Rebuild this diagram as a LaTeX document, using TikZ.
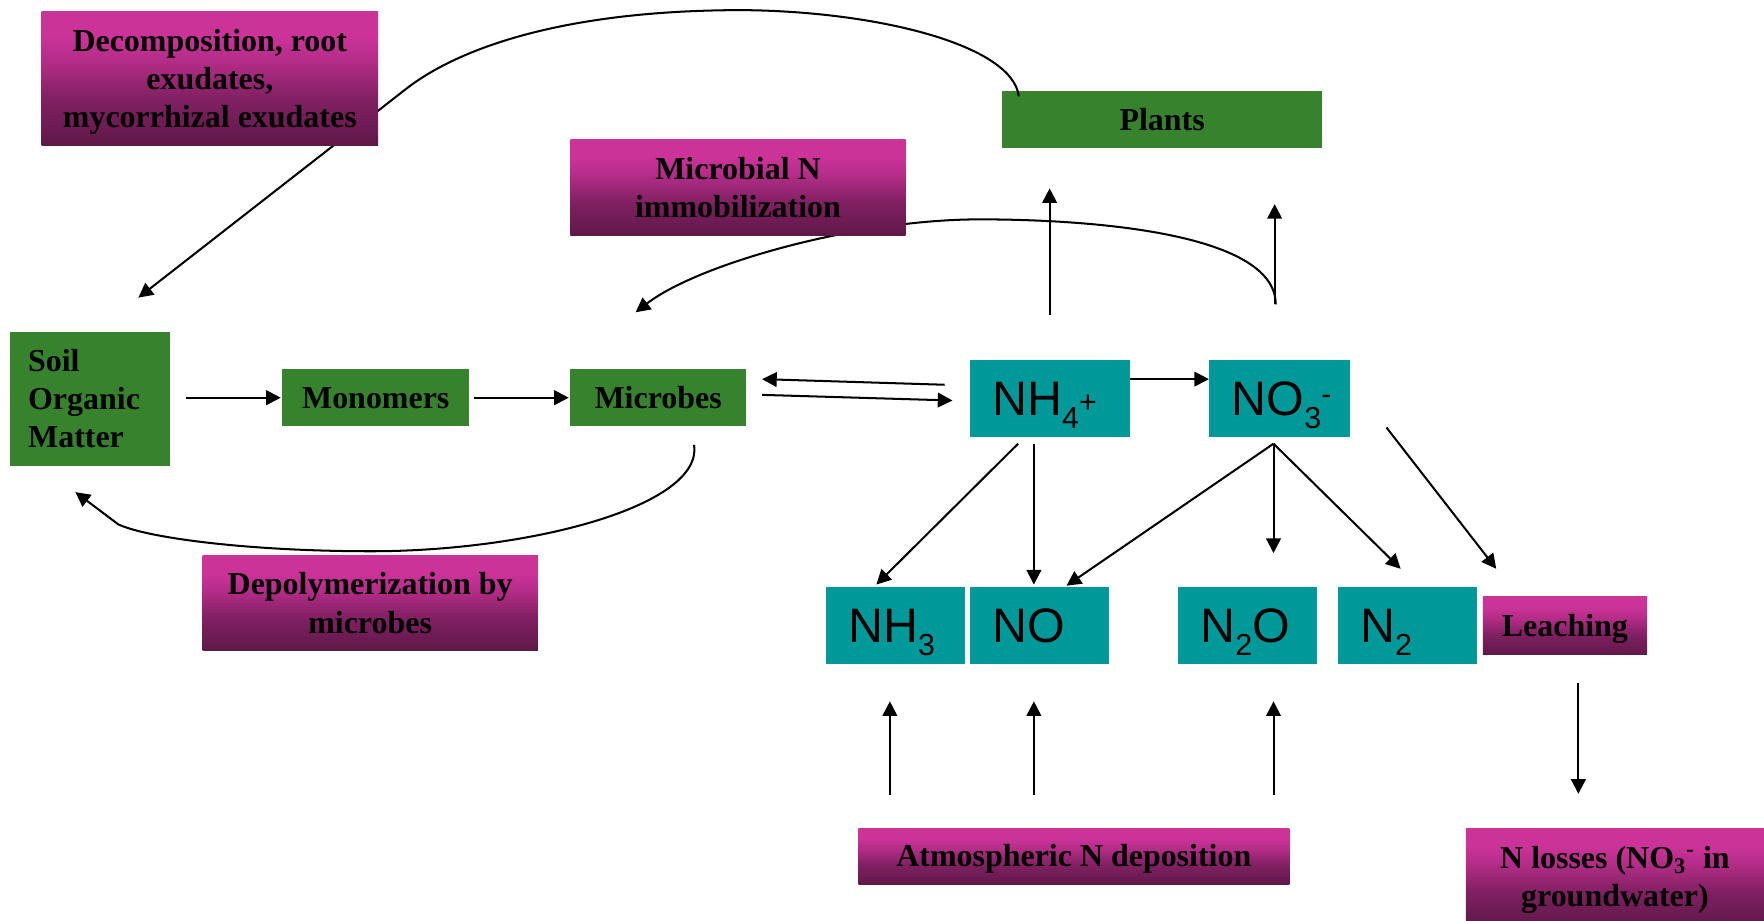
\documentclass[tikz,border=0pt]{standalone}
\usepackage{fontspec}
\setmainfont{Liberation Serif}
\newfontfamily\chemfont{Liberation Sans}
\usetikzlibrary{arrows.meta,calc}

\definecolor{leafgreen}{RGB}{55,131,45}
\definecolor{tealbox}{RGB}{0,153,153}
\definecolor{magTop}{RGB}{204,51,153}
\definecolor{magMid}{RGB}{178,44,134}
\definecolor{magLow}{RGB}{128,32,98}
\definecolor{magBot}{RGB}{96,24,72}

% magenta process boxes: bright top fading to dark plum at the bottom
\pgfdeclareverticalshading{processshade}{100bp}{color(0bp)=(magBot); color(25bp)=(magBot); color(42bp)=(magLow); color(56bp)=(magMid); color(66bp)=(magTop); color(100bp)=(magTop)}

\pgfdeclarelayer{front}
\pgfsetlayers{main,front}

% chemical sub- and superscripts for the nitrogen species
\newcommand\chemsub[1]{\raisebox{-5.8pt}{\fontsize{13.5}{13.5}\selectfont #1}}
\newcommand\chemsup[2]{\raisebox{#1}{\fontsize{13.5}{13.5}\selectfont #2}}

\begin{document}
\begin{tikzpicture}[
  x=0.5pt, y=-0.5pt,
  labelfont/.style={font=\bfseries\fontsize{14.2}{17}\selectfont},
  pool/.style={labelfont, fill=leafgreen, inner sep=0pt, align=center},
  process/.style={labelfont, shade, shading=processshade, inner sep=0pt, align=center},
  oneline/.style={text height=9.6pt, text depth=0pt},
  species/.style={fill=tealbox, inner ysep=0pt, inner xsep=10pt,
    font=\chemfont\fontsize{21.5}{24}\selectfont, align=left,
    text height=15.5pt, text depth=0pt, minimum height=34pt},
  flow/.style={-{Triangle[length=6.5pt,width=6.5pt]}, line width=0.9pt}
]
\useasboundingbox[fill=white] (0,0) rectangle (1568,818);

% carbon and nitrogen pools
\node[pool, oneline, minimum width=142pt, minimum height=25.5pt] (plants) at (1033,106.5) {Plants};
\node[pool, minimum width=71pt, minimum height=59.5pt, align=left, text width=55pt, inner xsep=8pt] (soil) at (80,354.5) {Soil\\Organic\\Matter};
\node[pool, oneline, minimum width=83pt, minimum height=25.5pt] (mono) at (334,353.5) {Monomers};
\node[pool, oneline, minimum width=78pt, minimum height=25.5pt] (microbes) at (585,353.5) {Microbes};

\node[species, text width=51pt] (nh4) at (933,354) {NH\chemsub{4}\chemsup{1.5pt}{+}};
\node[species, text width=42.5pt] (no3) at (1137.5,354) {NO\chemsub{3}\chemsup{5pt}{-}};
\node[species, text width=42pt] (nh3) at (796,556) {NH\chemsub{3}};
\node[species, text width=42pt] (no) at (924,556) {NO};
\node[species, text width=42pt] (n2o) at (1109,556) {N\chemsub{2}O};
\node[species, text width=42pt] (n2) at (1251,556) {N\chemsub{2}};

% processes, kept on top of the connectors that pass behind them
\begin{pgfonlayer}{front}
\node[process, minimum width=149.5pt, minimum height=59.5pt, text depth=0pt] (decomp) at (186.5,69.5) {Decomposition, root\\exudates,\\mycorrhizal exudates};
\node[process, minimum width=149pt, minimum height=42.5pt] (immob) at (656,166.5) {Microbial N\\immobilization};
\node[process, minimum width=149pt, minimum height=42pt] (depol) at (329,536) {Depolymerization by\\microbes};
\node[process, oneline, minimum width=73pt, minimum height=26pt] (leach) at (1391,556) {Leaching};
\node[process, oneline, minimum width=191.5pt, minimum height=25pt] (atmos) at (954.5,761) {Atmospheric N deposition};
\node[process, minimum width=132.5pt, minimum height=43pt, text depth=0pt] (nloss) at (1435.5,779) {N losses (NO\textsubscript{3}\textsuperscript{-} in\\groundwater)};
\end{pgfonlayer}

% organic matter chain
\draw[flow] ($(soil.east |- mono.west)+(14,0)$) -- ($(mono.west)+(-1,0)$);
\draw[flow] ($(mono.east)+(4,0)$) -- ($(microbes.west)+(-1,0)$);
\draw[flow] ($(nh4.west)+(-22,-12)$) -- ($(microbes.east)+(14,-16.5)$);
\draw[flow] ($(microbes.east)+(14,-2.5)$) -- ($(nh4.west)+(-15,2)$);
\draw[flow] ($(nh4.east)+(0,-17)$) -- ($(no3.west)+(0,-17)$);

% uptake by plants
\draw[flow] ($(nh4.north)+(0,-40)$) -- ($(nh4.north |- plants.south)+(0,35)$);
\draw[flow] ($(no3.north)+(-4.5,-49)$) -- ($(no3.north |- plants.south)+(-4.5,49)$);

% microbial immobilization of nitrate
\draw[flow] ($(no3.north)+(-3.5,-49)$) .. controls (1134,205) and (960,195) .. (871,195)
  .. controls (760,195) and (620,235) .. ($(microbes.north)+(-20,-50)$);

% plant inputs back to soil organic matter
\draw[flow] ($(plants.north west)+(15,5)$) .. controls (900,40) and (780,10) .. (660,9)
  .. controls (480,9) and (395.5,52) .. (361,79) -- ($(soil.north)+(43,-30)$);

% depolymerization loop
\draw[flow] ($(microbes.south)+(32,16)$) .. controls (625,450) and (470,490) .. (330,490)
  .. controls (220,490) and (130,478) .. (105,466) -- ($(soil.south)+(-13,23)$);

% gaseous products
\draw[flow] ($(nh4.south)+(-28,6)$) -- ($(nh3.north)+(-17,-2)$);
\draw[flow] ($(nh4.south)+(-14,6)$) -- ($(no.north)+(-5,-2)$);
\draw[flow] ($(no3.south)+(-5.5,6)$) -- ($(no.north)+(24,-1)$);
\draw[flow] ($(no3.south)+(-5.5,6)$) -- ($(n2o.north)+(23,-30)$);
\draw[flow] ($(no3.south)+(-5.5,6)$) -- ($(n2.north)+(-6,-16)$);

% leaching losses
\draw[flow] ($(no3.east)+(32,26)$) -- ($(leach.north)+(-61,-24)$);
\draw[flow] ($(leach.south)+(12,25)$) -- ($(nloss.north)+(-32.5,-30)$);

% atmospheric deposition
\draw[flow] ($(nh3.south |- atmos.north)+(-5,-29)$) -- ($(nh3.south)+(-5,33)$);
\draw[flow] ($(no.south |- atmos.north)+(-5,-29)$) -- ($(no.south)+(-5,33)$);
\draw[flow] ($(n2o.south |- atmos.north)+(23,-29)$) -- ($(n2o.south)+(23,33)$);
\end{tikzpicture}
\end{document}
